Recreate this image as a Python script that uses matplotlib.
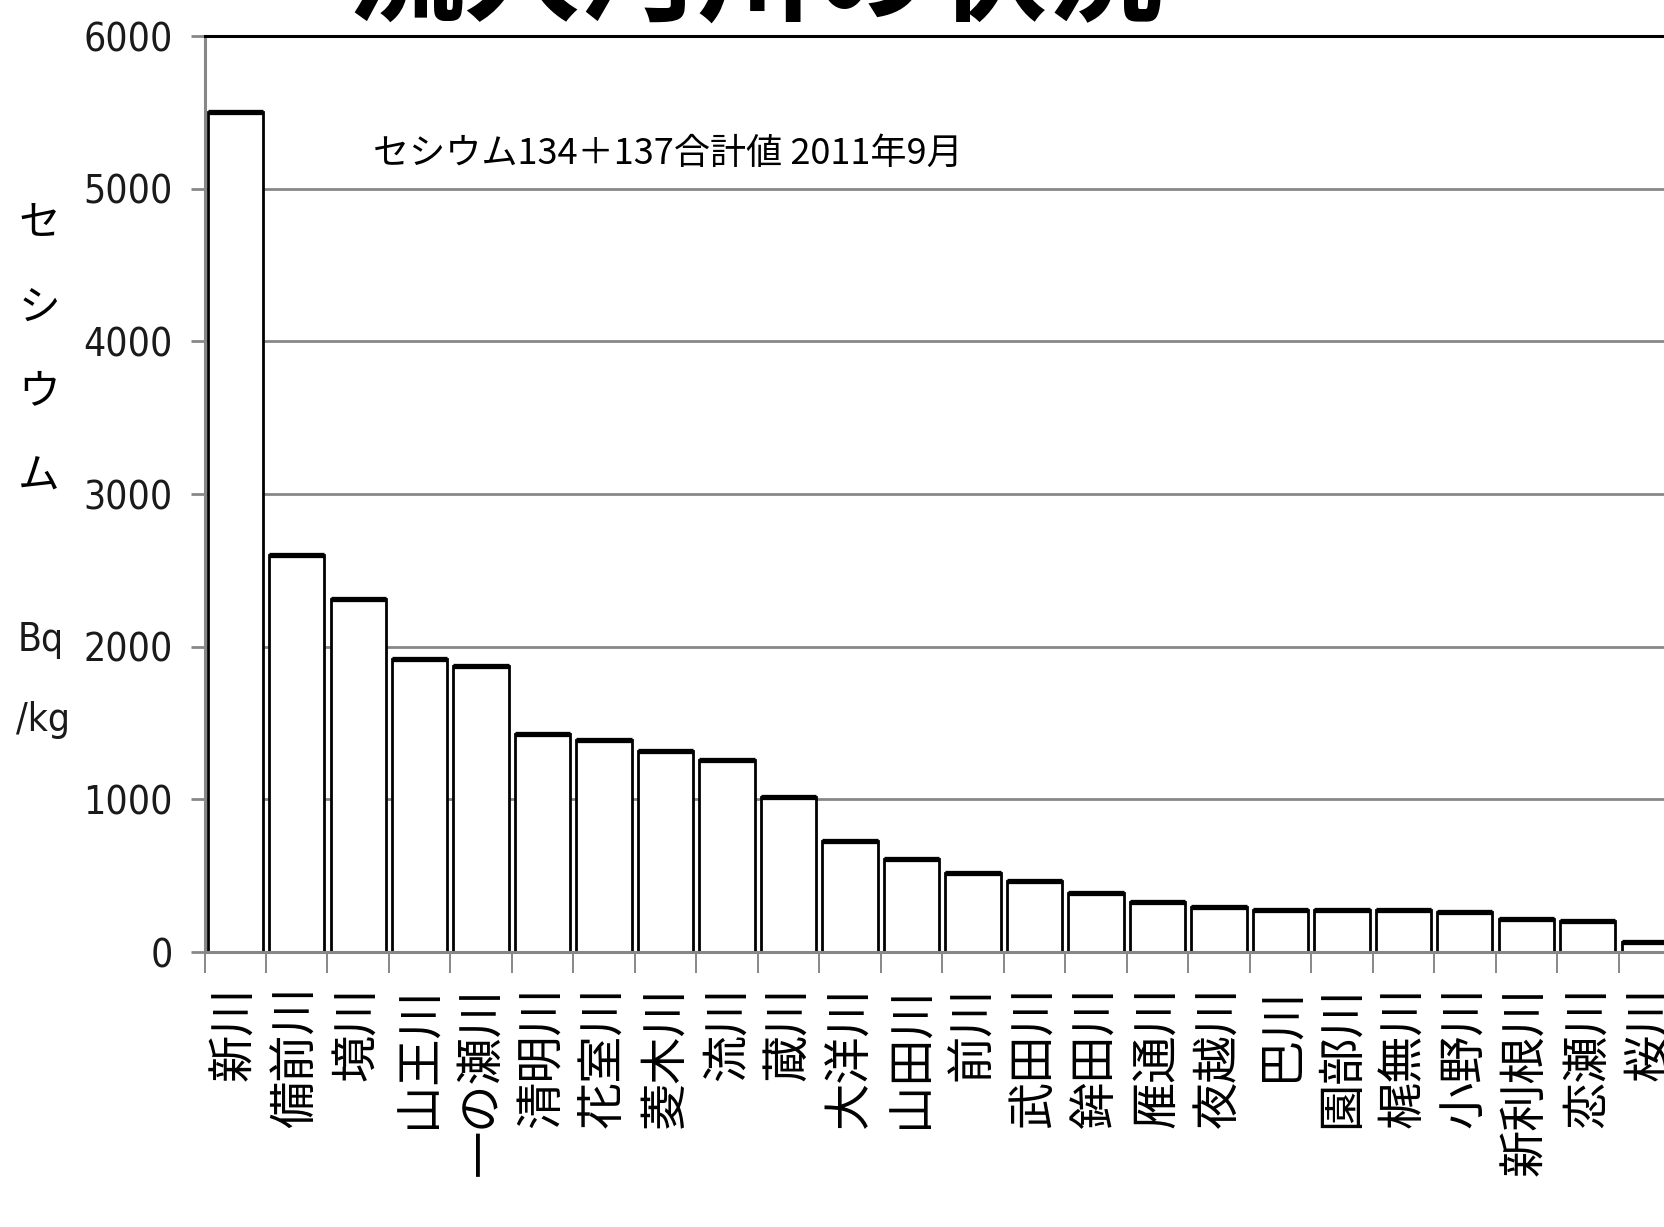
import matplotlib
matplotlib.use("Agg")
import matplotlib.pyplot as plt
import numpy as np

# 河川ごとのセシウム134+137合計値 (Bq/kg)
rivers = ["新川", "備前川", "境川", "山王川", "一の瀬川", "清明川", "花室川", "菱木川",
          "流川", "蔵川", "大洋川", "山田川", "前川", "武田川", "鉾田川", "雁通川",
          "夜越川", "巴川", "園部川", "梶無川", "小野川", "新利根川", "恋瀬川", "桜川"]
cesium = [5500, 2600, 2315, 1920, 1875, 1430, 1390, 1315,
          1260, 1015, 730, 610, 517, 463, 386, 330,
          293, 275, 275, 275, 260, 218, 200, 67]
yticks = [0, 1000, 2000, 3000, 4000, 5000, 6000]

plt.rcParams["font.family"] = ["Liberation Sans Narrow", "DejaVu Sans"]
plt.rcParams["font.stretch"] = "condensed"
JP = ["Noto Sans CJK JP", "DejaVu Sans"]

W, H = 1664, 1227
fig = plt.figure(figsize=(W / 100, H / 100), dpi=100)
fig.patch.set_facecolor("white")

def fx(px):
    return px / W

def fy(py):
    return 1 - py / H

x0, x1, ytop, ybot = 204.5, 1680.0, 36.0, 952.0
ax = fig.add_axes([fx(x0), fy(ybot), fx(x1 - x0), (ybot - ytop) / H])

x = np.arange(len(rivers))
bw = 0.9
ax.bar(x, cesium, width=bw, color="white", edgecolor="black", linewidth=2.0, zorder=2)
ax.hlines(cesium, x - bw / 2, x + bw / 2, color="black", linewidth=3.8, zorder=2.1)

ax.set_xlim(-0.5, len(rivers) - 0.5)
ax.set_ylim(0, 6000)
ax.set_yticks(yticks)
ax.set_yticklabels([str(v) for v in yticks])
ax.set_axisbelow(True)
ax.yaxis.grid(True, color="#878787", linewidth=2.0)

grey = "#878787"
ax.spines["right"].set_visible(False)
ax.spines["top"].set_color("black")
ax.spines["top"].set_linewidth(2.2)
for s in ("left", "bottom"):
    ax.spines[s].set_color(grey)
    ax.spines[s].set_linewidth(2.2)

ax.tick_params(axis="y", length=10, width=2.0, color=grey, pad=13,
               labelsize=28, labelcolor="#1a1a1a")
ax.set_xticks(x)
ax.set_xticklabels(rivers, rotation=90, va="top", ha="center", family=JP,
                   fontsize=34, color="black")
ax.tick_params(axis="x", which="major", length=0, pad=25)
ax.set_xticks(np.arange(-0.5, len(rivers), 1), minor=True)
ax.tick_params(axis="x", which="minor", length=15, width=1.4, color=grey)

# スライド見出し (上端で切れている)
fig.text(fx(756), fy(37), "流入河川の状況", ha="center", va="bottom",
         family=JP, fontsize=84, fontweight="bold", color="black")

# 凡例代わりの注記
fig.text(fx(373), fy(154), "セシウム134＋137合計値 2011年9月", ha="left", va="center",
         family=JP, fontsize=26, color="black")

# 縦書きの軸ラベル
for ch, py in zip("セシウム", [224, 308, 392, 477]):
    fig.text(fx(39), fy(py), ch, ha="center", va="center", family=JP,
             fontsize=30, color="black")
fig.text(fx(41), fy(640), "Bq", ha="center", va="center", fontsize=28, color="#1a1a1a")
fig.text(fx(43), fy(720), "/kg", ha="center", va="center", fontsize=28, color="#1a1a1a")

fig.savefig("out.png", dpi=100, facecolor="white")
